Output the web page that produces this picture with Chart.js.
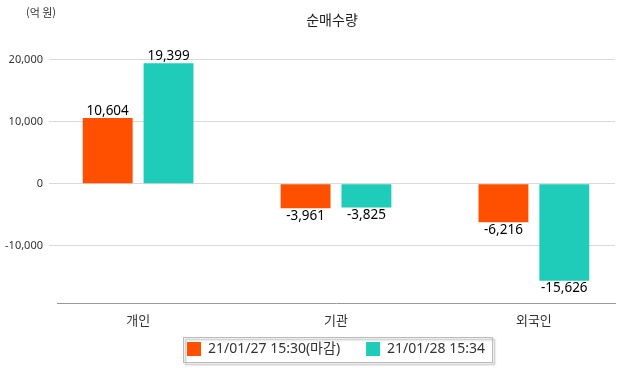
<!DOCTYPE html>
<html lang="ko">
<head>
    <meta charset="UTF-8">
    <title>순매수량</title>
    <script src="https://cdn.jsdelivr.net/npm/chart.js"></script>
    <style>
        * { margin: 0; padding: 0; box-sizing: border-box; }
        body { background: #fff; width: 622px; height: 368px; overflow: hidden; }
    </style>
</head>
<body>
    <canvas id="graphique" width="622" height="368"></canvas>

    <script>
        // données du graphique
        const categories = ['개인', '기관', '외국인'];
        const serieNoms = ['21/01/27 15:30(마감)', '21/01/28 15:34'];
        const serie1 = [10604, -3961, -6216];
        const serie2 = [19399, -3825, -15626];
        const ticksY = [-10000, 0, 10000, 20000];
        const couleurs = ['#ff5000', '#1fccb9'];

        const fontNum = "'Noto Sans', 'Noto Sans CJK KR', sans-serif";
        const fontKr = "'Noto Sans CJK KR', sans-serif";

        // étiquettes de valeurs + titre + unité + cadre de légende
        const pluginTextes = {
            id: 'textes',
            afterDatasetsDraw(chart) {
                const ctx = chart.ctx;
                ctx.save();
                ctx.font = '13.5px ' + fontNum;
                ctx.fillStyle = '#000';
                ctx.textAlign = 'center';
                chart.data.datasets.forEach((ds, i) => {
                    chart.getDatasetMeta(i).data.forEach((bar, j) => {
                        const v = ds.data[j].y;
                        const txt = v.toLocaleString('en-US');
                        if (v >= 0) {
                            ctx.textBaseline = 'bottom';
                            ctx.fillText(txt, bar.x, bar.y);
                        } else {
                            ctx.textBaseline = 'top';
                            ctx.fillText(txt, bar.x, bar.y + 1);
                        }
                    });
                });
                ctx.restore();
            },
            afterDraw(chart) {
                const ctx = chart.ctx;
                ctx.save();
                ctx.fillStyle = '#222';
                ctx.textAlign = 'center';
                ctx.textBaseline = 'middle';
                ctx.font = '14px ' + fontKr;
                ctx.fillText('순매수량', 332, 20);
                ctx.font = '11px ' + fontKr;
                ctx.fillStyle = '#333';
                ctx.fillText('(억 원)', 41, 13);

                // cadre autour de la légende
                const x0 = 183, x1 = 492;
                const y0 = 337, y1 = 362;
                ctx.shadowColor = 'rgba(0,0,0,0.35)';
                ctx.shadowOffsetX = 2;
                ctx.shadowOffsetY = 2;
                ctx.shadowBlur = 2;
                ctx.strokeStyle = '#bbb';
                ctx.lineWidth = 1;
                ctx.strokeRect(x0 + 0.5, y0 + 0.5, x1 - x0, y1 - y0);
                ctx.restore();
            }
        };

        const ctx1 = document.getElementById('graphique').getContext('2d');
        new Chart(ctx1, {
            type: 'bar',
            data: {
                datasets: [
                    {
                        label: serieNoms[0],
                        data: serie1.map((v, i) => ({ x: i, y: v })),
                        backgroundColor: couleurs[0]
                    },
                    {
                        label: serieNoms[1],
                        data: serie2.map((v, i) => ({ x: i, y: v })),
                        backgroundColor: couleurs[1]
                    }
                ]
            },
            options: {
                responsive: false,
                animation: false,
                devicePixelRatio: 1,
                categoryPercentage: 0.615,
                barPercentage: 0.82,
                layout: { padding: { top: 44, right: 7, left: 0, bottom: 2 } },
                plugins: {
                    title: { display: false },
                    tooltip: { enabled: false },
                    legend: {
                        position: 'bottom',
                        fullSize: false,
                        labels: {
                            boxWidth: 14,
                            boxHeight: 14,
                            padding: 26,
                            color: '#333',
                            font: { size: 14, family: fontNum }
                        }
                    }
                },
                scales: {
                    x: {
                        type: 'linear',
                        offset: false,
                        min: -0.41,
                        max: 2.41,
                        afterBuildTicks: axis => {
                            axis.ticks = categories.map((c, i) => ({ value: i }));
                        },
                        afterFit: scale => { scale.height = 13; },
                        ticks: {
                            callback: v => categories[v],
                            color: '#333',
                            font: { size: 13, family: fontKr },
                            mirror: true,
                            padding: -25
                        },
                        grid: { display: false },
                        border: { display: true, color: '#999' }
                    },
                    y: {
                        min: -19200,
                        max: 22500,
                        afterBuildTicks: axis => {
                            axis.ticks = ticksY.map(v => ({ value: v }));
                        },
                        afterFit: scale => { scale.width = 57; },
                        ticks: {
                            callback: v => v.toLocaleString('en-US'),
                            color: '#333',
                            font: { size: 11, family: fontNum },
                            padding: 6
                        },
                        grid: { color: '#d9d9d9', drawTicks: true, tickLength: 8 },
                        border: { display: false }
                    }
                }
            },
            plugins: [pluginTextes]
        });
    </script>
</body>
</html>
